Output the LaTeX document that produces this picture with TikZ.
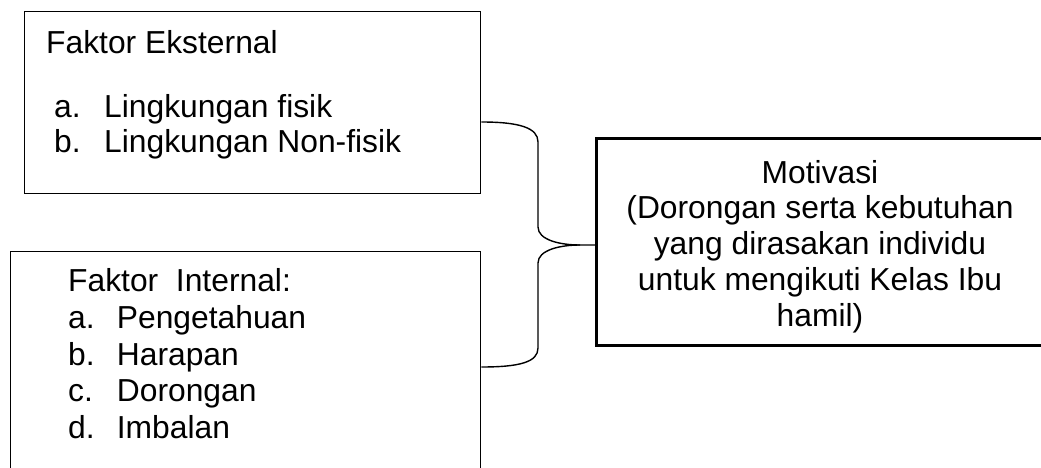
\documentclass[tikz,border=0pt]{standalone}
\usepackage{fontspec}
\setmainfont{Liberation Sans}
\begin{document}
\begin{tikzpicture}[x=1pt,y=-1pt,
  thinbox/.style={draw=black,line width=1.4pt,rectangle,inner sep=0pt,anchor=north west},
  thickbox/.style={draw=black,line width=3pt,rectangle,inner sep=0pt,anchor=north west},
  txt/.style={anchor=base west,inner sep=0pt,font=\fontsize{31.8}{36}\selectfont},
  ctxt/.style={anchor=base,inner sep=0pt,font=\fontsize{31.8}{36}\selectfont},
  brace/.style={draw=black,line width=1.4pt}]
\useasboundingbox (0,0) rectangle (1041,468);
\clip (0,0) rectangle (1041,468);
% boxes
\node[thinbox,minimum width=456pt,minimum height=182pt] (ext) at (24,11) {};
\node[thinbox,minimum width=470pt,minimum height=240pt] (int) at (10,251) {};
\node[thickbox,minimum width=460pt,minimum height=206.5pt] (mot) at (595,137.5) {};
% external text
\node[txt] (e0) at (46,53.3) {Faktor Eksternal};
\node[txt] (e1a) at (54,117.3) {a.};
\node[txt] (e1b) at (104,117.3) {Lingkungan fisik};
\node[txt] (e2a) at (54,152.7) {b.};
\node[txt] (e2b) at (104,152.7) {Lingkungan Non-fisik};
% internal text
\node[txt] (i0) at (68,291.7) {Faktor\ \ Internal:};
\node[txt] (i1a) at (68,328.3) {a.};
\node[txt] (i1b) at (116.7,328.3) {Pengetahuan};
\node[txt] (i2a) at (68,365) {b.};
\node[txt] (i2b) at (116.7,365) {Harapan};
\node[txt] (i3a) at (68,401.7) {c.};
\node[txt] (i3b) at (116.7,401.7) {Dorongan};
\node[txt] (i4a) at (68,438.3) {d.};
\node[txt] (i4b) at (116.7,438.3) {Imbalan};
% motivasi text
\node[ctxt] (m0) at (820,183.5) {Motivasi};
\node[ctxt] (m1) at (820,218.5) {(Dorongan serta kebutuhan};
\node[ctxt] (m2) at (820,254) {yang dirasakan individu};
\node[ctxt] (m3) at (820,290) {untuk mengikuti Kelas Ibu};
\node[ctxt] (m4) at (820,326) {hamil)};
% brace
\coordinate (btop) at (ext.east |- 0,122);
\coordinate (bbot) at (int.east |- 0,367);
\coordinate (tip) at (580,245);
\coordinate (mleft) at (mot.west |- tip);
\draw[brace] (btop) .. controls (520,122) and (538,128) .. (538,142) -- (538,227)
  .. controls (538,240) and (560,245) .. (tip) -- (mleft);
\draw[brace] (tip) .. controls (560,245) and (538,250) .. (538,263) -- (538,348)
  .. controls (538,362) and (520,367) .. (bbot);
\end{tikzpicture}
\end{document}
